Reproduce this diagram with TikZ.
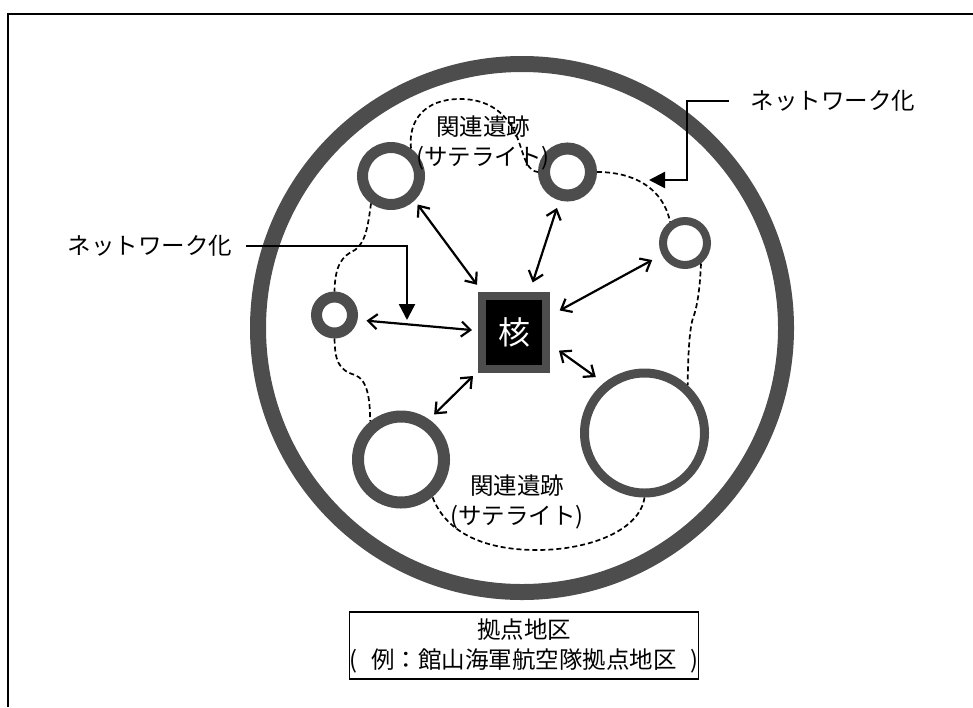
\documentclass[tikz,border=0pt]{standalone}
\usepackage{fontspec}
\setmainfont{Noto Sans CJK JP}
\usepackage{tikz}
\usetikzlibrary{arrows.meta}
\definecolor{ringgray}{RGB}{77,77,77}

\begin{document}
\begin{tikzpicture}[x=1pt,y=-1pt,
        ring/.style={circle,draw=ringgray,inner sep=0pt},
        link/.style={{Straight Barb[length=9pt,width=15pt]}-{Straight Barb[length=9pt,width=15pt]},line width=2.2pt,shorten <=8pt,shorten >=8pt},
        trail/.style={dash pattern=on 5pt off 3pt,line width=1.7pt},
        netlink/.style={-{Triangle[length=16pt,width=16pt]},line width=2.4pt},
        lbl/.style={font=\fontsize{23.5}{30}\selectfont,align=center}]
        \useasboundingbox (0,0) rectangle (973,707);
        \draw[line width=1.6pt] (8,707) -- (8,14) -- (973,14);
        \draw[ringgray,line width=16pt] (522,328) circle (264pt);
        \node[ring,line width=11pt,minimum size=57pt] (ruinA) at (391,176) {};
        \node[ring,line width=12pt,minimum size=47pt] (ruinB) at (567.5,172) {};
        \node[ring,line width=8pt,minimum size=44pt] (ruinC) at (685,243) {};
        \node[ring,line width=11pt,minimum size=36pt] (ruinD) at (334.5,315) {};
        \node[ring,line width=12pt,minimum size=86pt] (ruinE) at (401,459.5) {};
        \node[ring,line width=9pt,minimum size=120pt] (ruinF) at (644.5,433) {};
        \node[draw=ringgray,fill=black,line width=8pt,minimum width=64pt,minimum height=73pt,inner sep=0pt,text=white,font=\fontsize{32}{32}\selectfont] (core) at (514,332.5) {核};
        \draw[trail] (ruinA.234) .. controls (368,225) and (366,242) .. (355,250) .. controls (342,256) and (335,265) .. (ruinD.north);
        \draw[trail] (ruinD.south) .. controls (335,360) and (338,370) .. (355,375) .. controls (368,380) and (370,400) .. (ruinE.129);
        \draw[trail] (ruinA.54) .. controls (408,120) and (425,99) .. (460,99) .. controls (495,99) and (512,120) .. (520,145) .. controls (525,160) and (528,171) .. (ruinB.west);
        \draw[trail] (ruinB.east) .. controls (630,172) and (662,185) .. (ruinC.125);
        \draw[trail] (ruinC.308) .. controls (700,285) and (698,305) .. (693,318) .. controls (689,330) and (688,360) .. (ruinF.48);
        \draw[trail] (ruinF.south) .. controls (640,530) and (590,550) .. (537,550) .. controls (480,550) and (445,530) .. (ruinE.310);
        \draw[link,shorten <=5pt,shorten >=9pt] (ruinA.-46) -- (core.128);
        \draw[link,shorten >=10pt] (ruinB.254) -- (core.69);
        \draw[link,shorten <=11pt,shorten >=11pt] (ruinC.207) -- (core.25);
        \draw[link,shorten <=9pt,shorten >=6pt] (ruinD.-12) -- (core.177);
        \draw[link,shorten <=7pt,shorten >=7pt] (ruinE.55) -- (core.227);
        \draw[link,shorten <=10pt,shorten >=11pt] (ruinF.129) -- (core.-18);
        \node[lbl] (satTop) at (483,143) {関連遺跡\\(サテライト)};
        \node[lbl] (satBot) at (517,502) {関連遺跡\\(サテライト)};
        \node[lbl] (netL) at (150,246) {ネットワーク化};
        \node[lbl] (netR) at (833,101) {ネットワーク化};
        \coordinate (netLtip) at (407,320);
        \coordinate (netRbend) at (687,180);
        \coordinate (netRtip) at (649,180);
        \draw[netlink,shorten <=10pt] (netL.east) -| (netLtip);
        \draw[netlink,shorten <=18pt] (netR.west) -| (netRbend) -- (netRtip);
        \node[lbl,draw,line width=1.2pt,minimum width=346pt,minimum height=67pt,inner sep=0pt] (district) at (524,645.5) {拠点地区\\(\hspace{0.6em}例：館山海軍航空隊拠点地区\hspace{0.6em})};
    \end{tikzpicture}
\end{document}
